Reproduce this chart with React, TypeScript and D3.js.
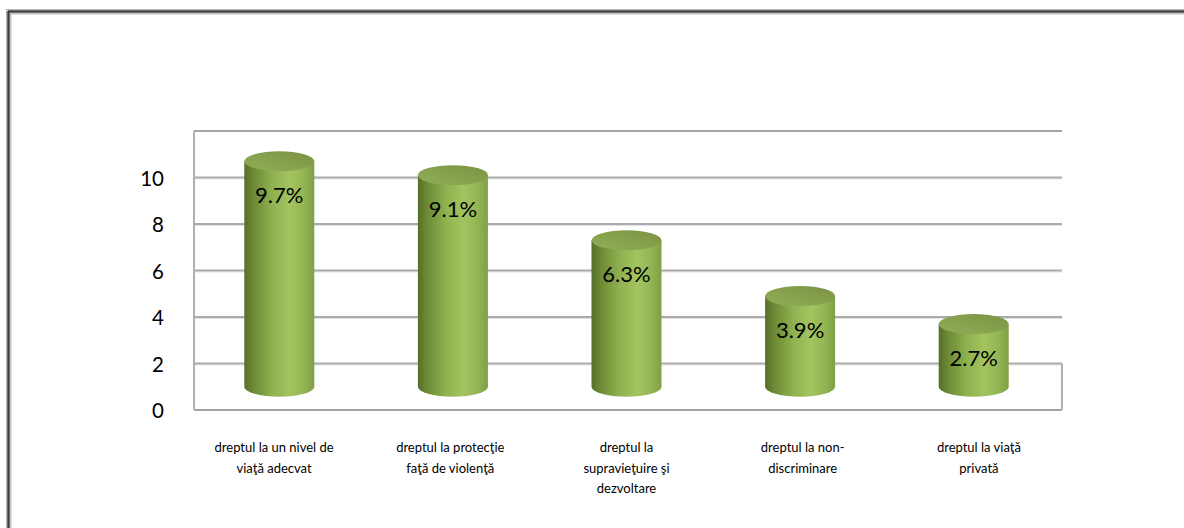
import React from "react";
import * as d3 from "d3";

const categories = [
  "dreptul la un nivel de\nviaţă adecvat",
  "dreptul la protecţie\nfaţă de violenţă",
  "dreptul la\nsupravieţuire şi\ndezvoltare",
  "dreptul la non-\ndiscriminare",
  "dreptul la viaţă\nprivată",
];
const values = [9.7, 9.1, 6.3, 3.9, 2.7];
const tickValues = [0, 2, 4, 6, 8, 10];
const gridValues = [2, 4, 6, 8, 10];

const W = 1184;
const H = 528;
const FONT = "Lato, 'Open Sans', sans-serif";

export default function App() {
  const wallLeft = 194;
  const wallRight = 1062;
  const y = d3.scaleLinear().domain([0, 12]).range([410, 131]);
  const depth = y(0) - y(1); // floor depth offset of the 3D cylinders
  const x = d3.scaleBand<number>().domain(d3.range(values.length)).range([wallLeft - 1.5, wallRight - 1.5]);
  const xl = d3.scaleBand<number>().domain(d3.range(categories.length)).range([186, 1067]);
  const rx = 35;
  const ry = 10;

  return (
    <svg width={W} height={H} style={{ position: "absolute", left: 0, top: 0, background: "#fff" }}>
      <defs>
        <linearGradient id="body" x1="0" x2="1" y1="0" y2="0">
          <stop offset="0%" stopColor="#566f2a" />
          <stop offset="12%" stopColor="#6b8834" />
          <stop offset="40%" stopColor="#8fb150" />
          <stop offset="65%" stopColor="#a3c45f" />
          <stop offset="85%" stopColor="#94b554" />
          <stop offset="100%" stopColor="#7f9f44" />
        </linearGradient>
        <linearGradient id="top" x1="0" x2="1" y1="1" y2="0">
          <stop offset="0%" stopColor="#93ae57" />
          <stop offset="100%" stopColor="#7a9343" />
        </linearGradient>
      </defs>

      {/* outer frame */}
      <line x1={6} x2={W} y1={9.5} y2={9.5} stroke="#b5b5b5" strokeWidth={1} />
      <line x1={8} x2={W} y1={11.5} y2={11.5} stroke="#3e3e3e" strokeWidth={2.5} />
      <line x1={10} x2={W} y1={13.8} y2={13.8} stroke="#b5b5b5" strokeWidth={1.2} />
      <line x1={6.5} x2={6.5} y1={9.5} y2={H} stroke="#b5b5b5" strokeWidth={1} />
      <line x1={8.5} x2={8.5} y1={11} y2={H} stroke="#3e3e3e" strokeWidth={2.5} />
      <line x1={10.8} x2={10.8} y1={13.5} y2={H} stroke="#b5b5b5" strokeWidth={1.2} />

      {/* back wall & gridlines */}
      {gridValues.map((v) => (
        <g key={v}>
          <line x1={wallLeft} x2={wallRight} y1={y(v) + 1.5} y2={y(v) + 1.5} stroke="#e2e2e2" strokeWidth={1} />
          <line x1={wallLeft} x2={wallRight} y1={y(v)} y2={y(v)} stroke="#ababab" strokeWidth={2} />
        </g>
      ))}
      <line x1={wallLeft} x2={wallRight} y1={y(12)} y2={y(12)} stroke="#a3a3a3" strokeWidth={2} />
      <line x1={wallLeft} x2={wallRight} y1={y(0)} y2={y(0)} stroke="#a3a3a3" strokeWidth={2} />
      <line x1={wallLeft} x2={wallLeft} y1={y(12)} y2={y(0)} stroke="#b0b0b0" strokeWidth={2} />
      <line x1={wallRight} x2={wallRight} y1={y(2)} y2={y(0)} stroke="#b0b0b0" strokeWidth={2} />

      {/* y tick labels */}
      {tickValues.map((v) => (
        <text
          key={v}
          x={164}
          y={y(v) + 3}
          textAnchor="end"
          dominantBaseline="middle"
          fontFamily={FONT}
          fontSize={20.5}
          fill="#000"
        >
          {v}
        </text>
      ))}

      {/* cylinders */}
      {values.map((v, i) => {
        const cx = (x(i) as number) + x.bandwidth() / 2;
        const yb = y(0) - depth;
        const yt = y(v) - depth;
        const body = `M${cx - rx},${yt} L${cx - rx},${yb} A${rx},${ry} 0 0 0 ${cx + rx},${yb} L${cx + rx},${yt} Z`;
        return (
          <g key={i}>
            <path d={body} fill="url(#body)" />
            <ellipse cx={cx} cy={yt} rx={rx} ry={ry} fill="url(#top)" />
            <text
              x={cx}
              y={yt + 36}
              textAnchor="middle"
              dominantBaseline="middle"
              fontFamily={FONT}
              fontSize={22}
              fill="#000"
            >
              {v.toFixed(1)}%
            </text>
          </g>
        );
      })}

      {/* category labels */}
      {categories.map((c, i) => {
        const cx = (xl(i) as number) + xl.bandwidth() / 2;
        return (
          <text key={i} textAnchor="middle" fontFamily={FONT} fontSize={13} fill="#000">
            {c.split("\n").map((line, j) => (
              <tspan key={j} x={cx} y={452 + j * 20.5}>
                {line}
              </tspan>
            ))}
          </text>
        );
      })}
    </svg>
  );
}
